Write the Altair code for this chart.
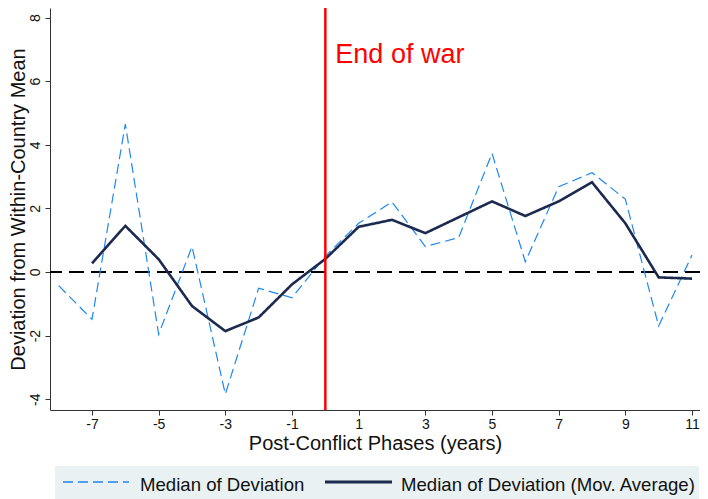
import altair as alt
import pandas as pd

# ---- data ----
phases = list(range(-8, 12))
median_dev = [-0.43, -1.49, 4.65, -1.96, 0.80, -3.84, -0.51, -0.81, 0.50, 1.53,
              2.20, 0.80, 1.08, 3.73, 0.32, 2.68, 3.12, 2.29, -1.70, 0.53]
mov_avg = [None, 0.27, 1.45, 0.40, -1.07, -1.86, -1.43, -0.39, 0.41, 1.42,
           1.64, 1.22, 1.72, 2.22, 1.76, 2.22, 2.82, 1.53, -0.17, -0.21]
series_names = ["Median of Deviation", "Median of Deviation (Mov. Average)"]
series_colors = ["#1E88F0", "#1B2A4E"]
series_dash = [[10, 5], [1, 0]]
series_width = [1.2, 2.6]
x_ticks = [-7, -5, -3, -1, 1, 3, 5, 7, 9, 11]
y_ticks = [-4, -2, 0, 2, 4, 6, 8]
war_end = [0]
annotation = ["End of war"]

rows = []
for p, v in zip(phases, median_dev):
    rows.append({"phase": p, "value": v, "series": series_names[0]})
for p, v in zip(phases, mov_avg):
    if v is not None:
        rows.append({"phase": p, "value": v, "series": series_names[1]})
df = pd.DataFrame(rows)

FONT = "Liberation Sans"
xscale = alt.Scale(domain=[-8.26, 11.24], nice=False, zero=False)
yscale = alt.Scale(domain=[-4.34, 8.30], nice=False, zero=False)

lines = alt.Chart(df).mark_line().encode(
    x=alt.X("phase:Q", scale=xscale,
            axis=alt.Axis(values=x_ticks, title="Post-Conflict Phases (years)",
                          labelExpr="'' + datum.value", titlePadding=2)),
    y=alt.Y("value:Q", scale=yscale,
            axis=alt.Axis(values=y_ticks, title="Deviation from Within-Country Mean",
                          labelExpr="'' + datum.value",
                          labelAngle=-90, labelAlign="center", labelBaseline="bottom",
                          labelPadding=3, titlePadding=0)),
    color=alt.Color("series:N",
                    scale=alt.Scale(domain=series_names, range=series_colors),
                    legend=None),
    strokeDash=alt.StrokeDash("series:N",
                              scale=alt.Scale(domain=series_names, range=series_dash),
                              legend=None),
    strokeWidth=alt.StrokeWidth("series:N",
                                scale=alt.Scale(domain=series_names, range=series_width),
                                legend=None),
)

zero = alt.Chart(pd.DataFrame({"y": [0]})).mark_rule(
    color="black", strokeWidth=2, strokeDash=[15, 7]).encode(y=alt.Y("y:Q", scale=yscale))

red = alt.Chart(pd.DataFrame({"x": war_end})).mark_rule(
    color="#FF0000", strokeWidth=2.5).encode(x=alt.X("x:Q", scale=xscale))

label = alt.Chart(pd.DataFrame({"x": war_end, "y": [6.58], "t": annotation})).mark_text(
    color="#FF0000", fontSize=27, font=FONT, align="left", baseline="alphabetic", dx=10
).encode(x=alt.X("x:Q", scale=xscale), y=alt.Y("y:Q", scale=yscale), text="t:N")

# ---- legend drawn below the plot ----
one = pd.DataFrame({"k": [0]})
legend_bg = alt.Chart(one).mark_rect(color="#E9F1F3").encode(
    x=alt.value(5), x2=alt.value(649), y=alt.value(458), y2=alt.value(496))

sym_x = [(13, 79), (275, 342)]
lab_x = [90, 351]
legend_parts = [legend_bg]
for i, name in enumerate(series_names):
    legend_parts.append(
        alt.Chart(one).mark_rule(color=series_colors[i], strokeDash=series_dash[i],
                                 strokeWidth=series_width[i] + 0.3).encode(
            x=alt.value(sym_x[i][0]), x2=alt.value(sym_x[i][1]), y=alt.value(474)))
    legend_parts.append(
        alt.Chart(pd.DataFrame({"t": [name]})).mark_text(
            font=FONT, fontSize=18.6, color="#111111", align="left", baseline="middle").encode(
            x=alt.value(lab_x[i]), y=alt.value(477), text="t:N"))

chart = alt.layer(zero, lines, red, label, *legend_parts).properties(
    width=650, height=402,
    autosize=alt.AutoSizeParams(type="none"),
    padding={"left": 42, "top": 0, "right": 0, "bottom": 89},
).configure_view(stroke=None).configure_axis(
    grid=False, domainColor="#333333", domainWidth=1, tickColor="#333333",
    tickSize=5, labelFont=FONT, labelFontSize=14, labelColor="#111111",
    titleFont=FONT, titleFontSize=20, titleFontWeight="normal", titleColor="#111111",
)

chart.save("out.html", embed_options={"renderer": "svg", "actions": False})
